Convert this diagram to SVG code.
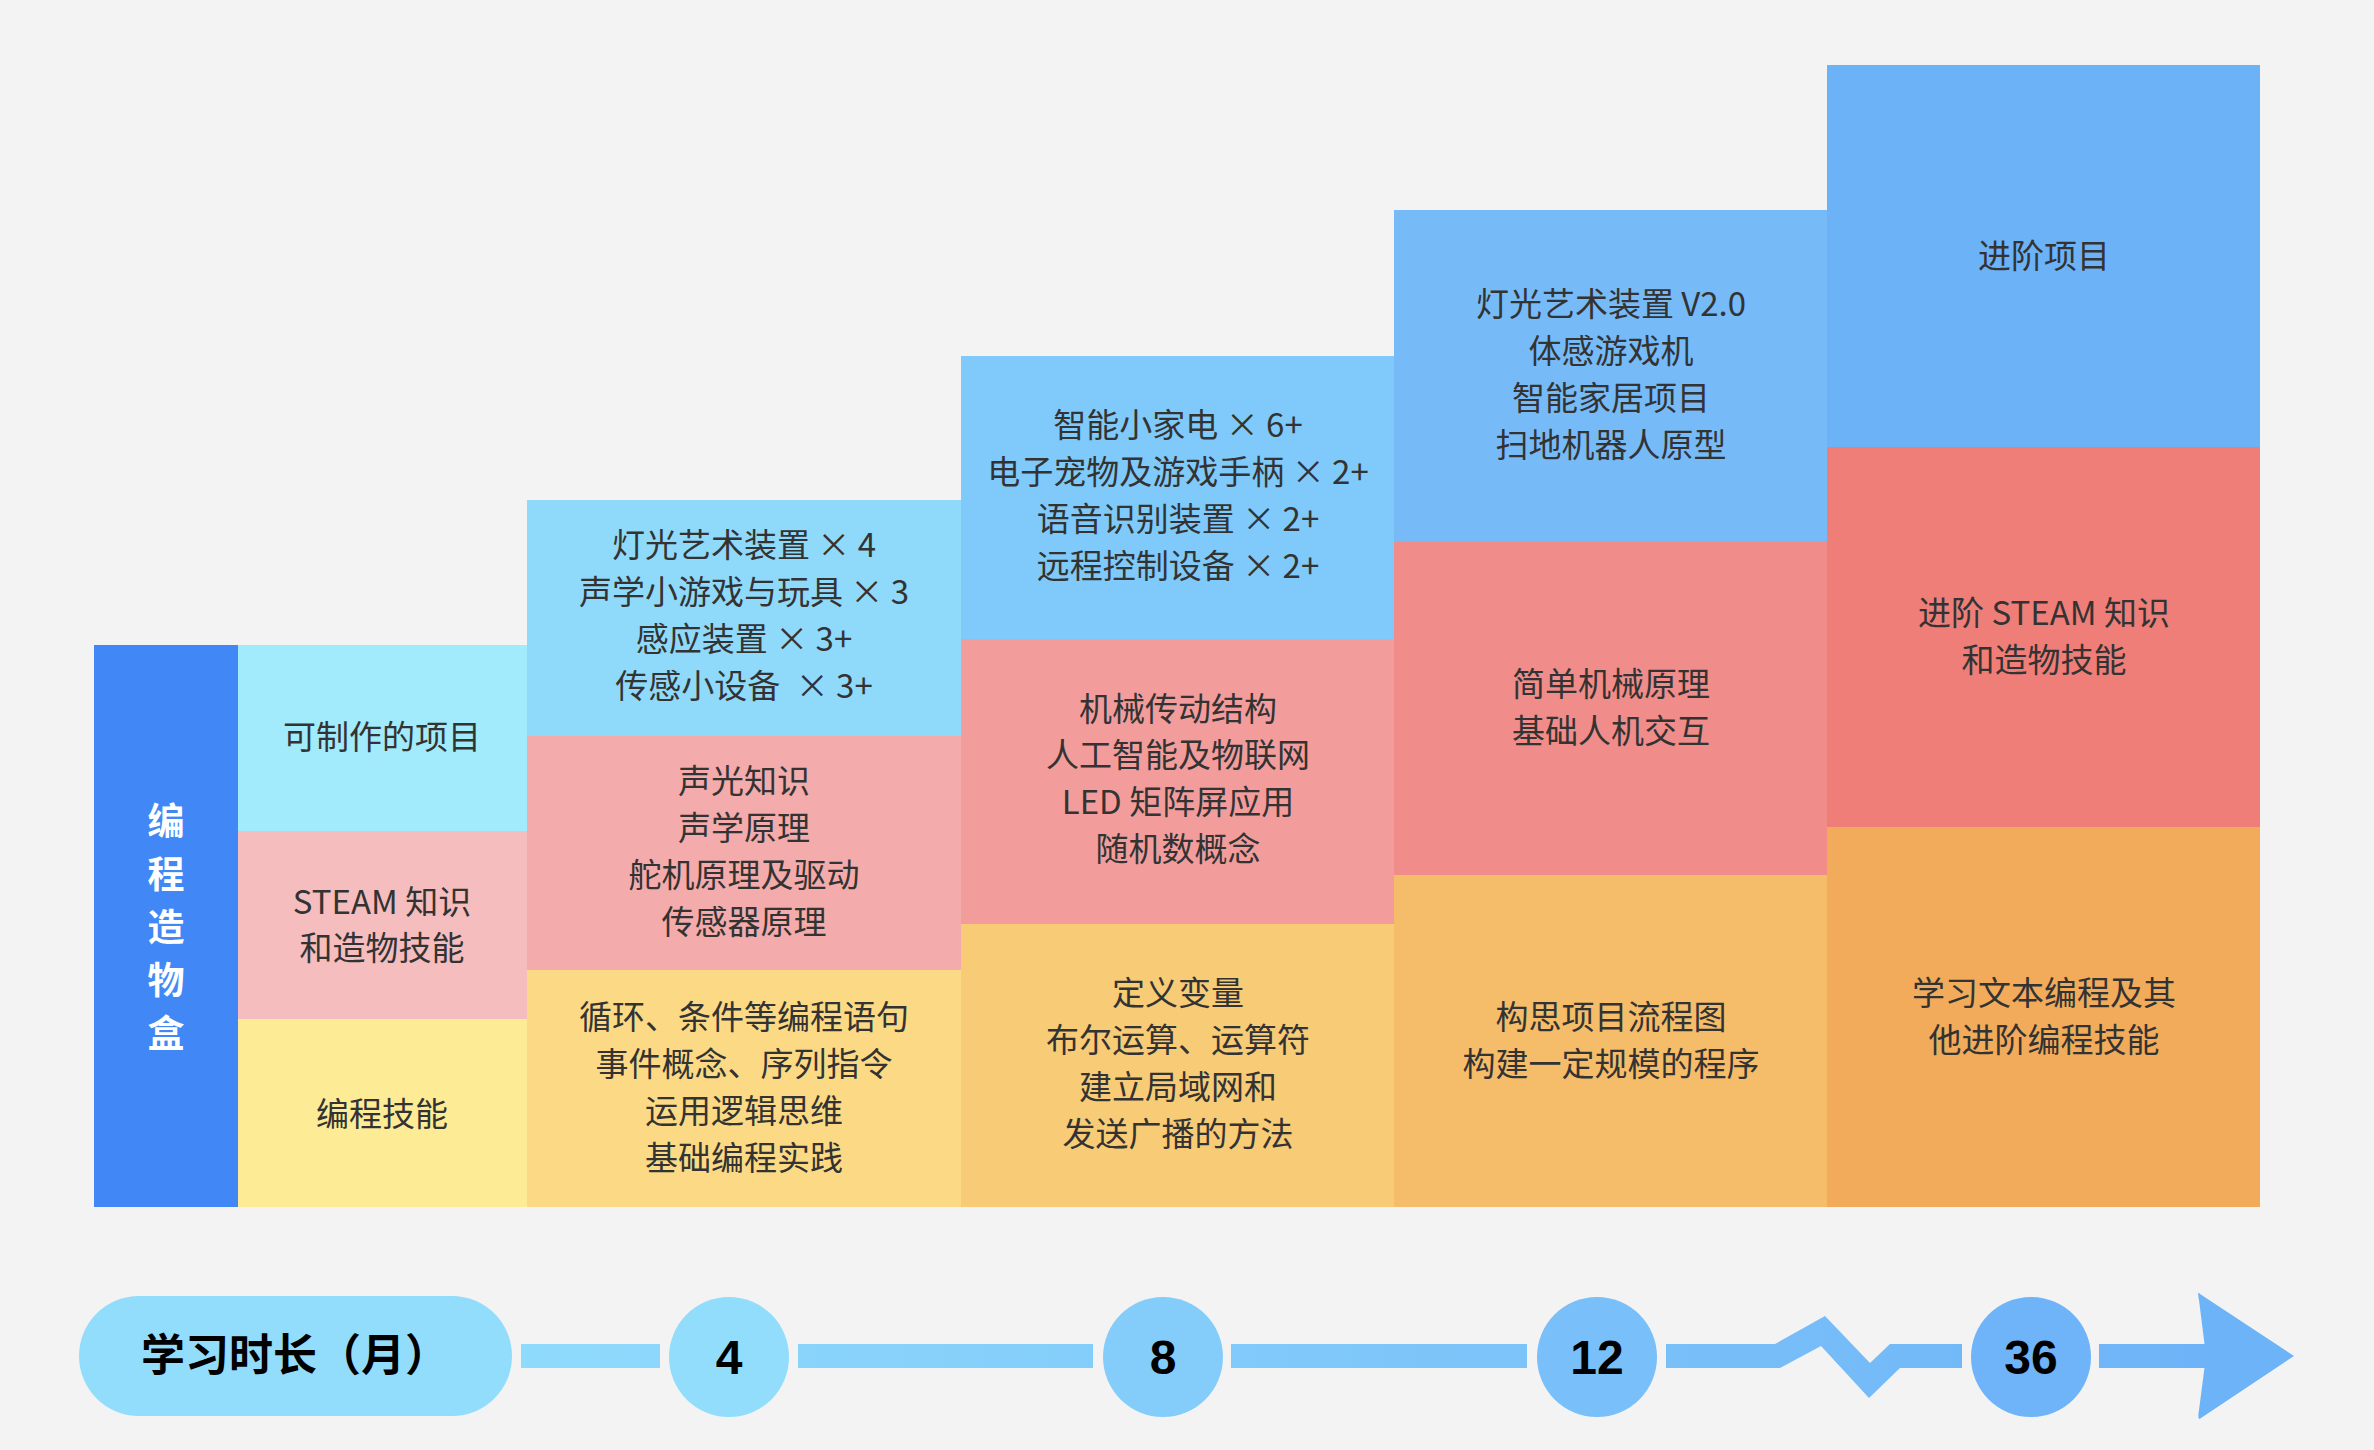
<svg xmlns="http://www.w3.org/2000/svg" width="2374" height="1450" viewBox="0 0 2374 1450">
<defs>
<style>
.t{font-family:"Noto Sans CJK SC","Noto Sans",sans-serif;font-size:33px;fill:#333;text-anchor:middle}
.lbl{font-family:"Noto Sans CJK SC",sans-serif;font-size:37px;font-weight:bold;fill:#fff;text-anchor:middle}
.tl{font-family:"Noto Sans CJK SC",sans-serif;font-size:44px;font-weight:bold;fill:#000;text-anchor:middle}
.num{font-family:"Liberation Sans",Arial,sans-serif;font-size:48px;font-weight:bold;fill:#000;text-anchor:middle}
</style>
<linearGradient id="bar" gradientUnits="userSpaceOnUse" x1="500" y1="0" x2="2300" y2="0">
<stop offset="0" stop-color="#8fdbfc"/>
<stop offset="1" stop-color="#6cb1f7"/>
</linearGradient>
</defs>
<rect width="2374" height="1450" fill="#f3f3f3"/>

<g id="label-col">
<rect x="94" y="645" width="144" height="562" fill="#4187f5"/>
<text class="lbl" x="166" y="835">编</text>
<text class="lbl" x="166" y="888">程</text>
<text class="lbl" x="166" y="941">造</text>
<text class="lbl" x="166" y="994">物</text>
<text class="lbl" x="166" y="1047">盒</text>
</g>

<g id="col1">
<rect x="238" y="645" width="289" height="186" fill="#a2ebfc"/>
<rect x="238" y="831" width="289" height="188" fill="#f5bdbd"/>
<rect x="238" y="1019" width="289" height="188" fill="#feeb96"/>
<text class="t" x="382" y="749">可制作的项目</text>
<text class="t" x="382" y="914">STEAM 知识</text>
<text class="t" x="382" y="960">和造物技能</text>
<text class="t" x="382" y="1126">编程技能</text>
</g>

<g id="col2">
<rect x="527" y="500" width="434" height="236" fill="#8fdafb"/>
<rect x="527" y="736" width="434" height="234" fill="#f3abab"/>
<rect x="527" y="970" width="434" height="237" fill="#fcda85"/>
<text class="t" x="744" y="557">灯光艺术装置 × 4</text>
<text class="t" x="744" y="604">声学小游戏与玩具 × 3</text>
<text class="t" x="744" y="651">感应装置 × 3+</text>
<text class="t" x="744" y="698">传感小设备 <tspan dx="8">× 3+</tspan></text>
<text class="t" x="744" y="793">声光知识</text>
<text class="t" x="744" y="840">声学原理</text>
<text class="t" x="744" y="887">舵机原理及驱动</text>
<text class="t" x="744" y="934">传感器原理</text>
<text class="t" x="744" y="1029">循环、条件等编程语句</text>
<text class="t" x="744" y="1076">事件概念、序列指令</text>
<text class="t" x="744" y="1123">运用逻辑思维</text>
<text class="t" x="744" y="1170">基础编程实践</text>
</g>

<g id="col3">
<rect x="961" y="356" width="433" height="283" fill="#7fcafa"/>
<rect x="961" y="639" width="433" height="285" fill="#f29d9c"/>
<rect x="961" y="924" width="433" height="283" fill="#f8cb77"/>
<text class="t" x="1178" y="437">智能小家电 × 6+</text>
<text class="t" x="1178" y="484">电子宠物及游戏手柄 × 2+</text>
<text class="t" x="1178" y="531">语音识别装置 × 2+</text>
<text class="t" x="1178" y="578">远程控制设备 × 2+</text>
<text class="t" x="1178" y="721">机械传动结构</text>
<text class="t" x="1178" y="767">人工智能及物联网</text>
<text class="t" x="1178" y="814">LED 矩阵屏应用</text>
<text class="t" x="1178" y="861">随机数概念</text>
<text class="t" x="1178" y="1005">定义变量</text>
<text class="t" x="1178" y="1052">布尔运算、运算符</text>
<text class="t" x="1178" y="1099">建立局域网和</text>
<text class="t" x="1178" y="1146">发送广播的方法</text>
</g>

<g id="col4">
<rect x="1394" y="210" width="433" height="332" fill="#76bbf8"/>
<rect x="1394" y="542" width="433" height="333" fill="#f08c89"/>
<rect x="1394" y="875" width="433" height="332" fill="#f5bc69"/>
<text class="t" x="1611" y="316">灯光艺术装置 V2.0</text>
<text class="t" x="1611" y="363">体感游戏机</text>
<text class="t" x="1611" y="410">智能家居项目</text>
<text class="t" x="1611" y="457">扫地机器人原型</text>
<text class="t" x="1611" y="696">简单机械原理</text>
<text class="t" x="1611" y="743">基础人机交互</text>
<text class="t" x="1611" y="1029">构思项目流程图</text>
<text class="t" x="1611" y="1076">构建一定规模的程序</text>
</g>

<g id="col5">
<rect x="1827" y="65" width="433" height="382" fill="#6cb2f7"/>
<rect x="1827" y="447" width="433" height="380" fill="#ef7e79"/>
<rect x="1827" y="827" width="433" height="380" fill="#f2ab5a"/>
<text class="t" x="2044" y="268">进阶项目</text>
<text class="t" x="2044" y="625">进阶 STEAM 知识</text>
<text class="t" x="2044" y="672">和造物技能</text>
<text class="t" x="2044" y="1005">学习文本编程及其</text>
<text class="t" x="2044" y="1052">他进阶编程技能</text>
</g>

<g id="connectors">
<rect x="521" y="1344" width="139" height="24" fill="url(#bar)"/>
<rect x="798" y="1344" width="295" height="24" fill="url(#bar)"/>
<rect x="1231" y="1344" width="296" height="24" fill="url(#bar)"/>
<polygon points="1666,1344 1775,1344 1825,1316 1870,1363 1890,1344 1962,1344 1962,1368 1900,1368 1869,1398 1821,1346 1780,1368 1666,1368" fill="url(#bar)"/>
<rect x="2099" y="1344" width="110" height="24" fill="url(#bar)"/>
<path d="M2200,1294 Q2197,1290 2199,1300 L2206,1356 L2199,1410 Q2197,1422 2201,1418 L2294,1356 Z" fill="#6db3f7"/>
</g>

<g id="axis-title">
<rect x="79" y="1296" width="433" height="120" rx="60" ry="60" fill="#92dcfc"/>
<text class="tl" x="295" y="1371">学习时长（月）</text>
</g>
<g id="m4">
<circle cx="729" cy="1357" r="60" fill="#92dcfc"/>
<text class="num" x="729" y="1374">4</text>
</g>
<g id="m8">
<circle cx="1163" cy="1357" r="60" fill="#84cdfb"/>
<text class="num" x="1163" y="1374">8</text>
</g>
<g id="m12">
<circle cx="1597" cy="1357" r="60" fill="#79bff9"/>
<text class="num" x="1597" y="1374">12</text>
</g>
<g id="m36">
<circle cx="2031" cy="1357" r="60" fill="#6fb3f8"/>
<text class="num" x="2031" y="1374">36</text>
</g>
</svg>
